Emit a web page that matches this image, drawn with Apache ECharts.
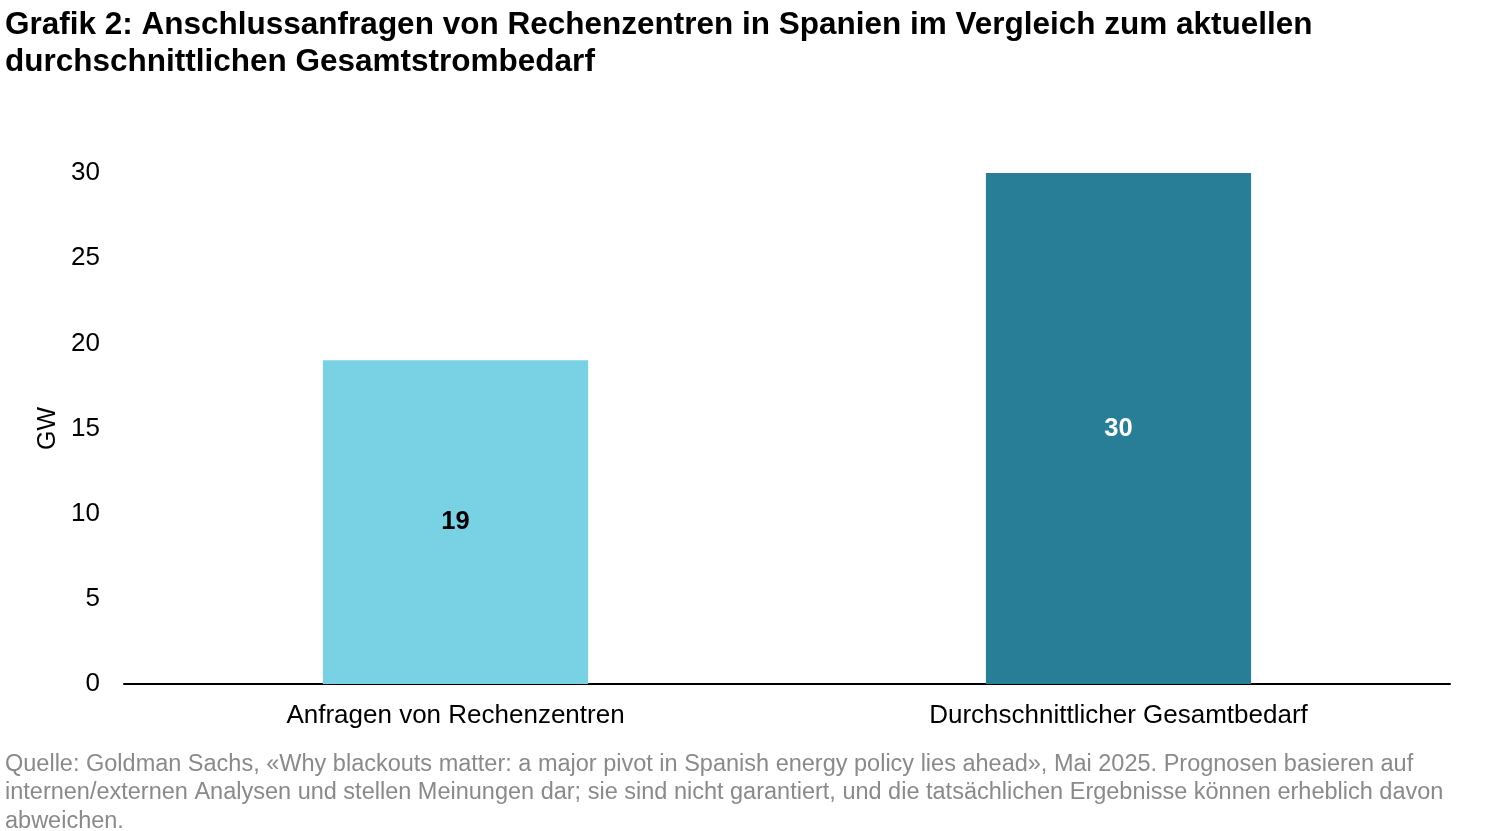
<!DOCTYPE html>
<html><head><meta charset="utf-8">
<script src="https://cdn.jsdelivr.net/npm/echarts@6/dist/echarts.min.js"></script>
<style>html,body{margin:0;padding:0;background:#fff;}#c{width:1500px;height:831px;}</style>
</head><body><div id="c"></div>
<script>
const titleText = "Grafik 2: Anschlussanfragen von Rechenzentren in Spanien im Vergleich zum aktuellen\ndurchschnittlichen Gesamtstrombedarf";
const categories = ["Anfragen von Rechenzentren", "Durchschnittlicher Gesamtbedarf"];
const values = [19, 30];
const barColors = ["#78D2E4", "#277E96"];
const labelColors = ["#000000", "#ffffff"];
const sourceText = "Quelle: Goldman Sachs, «Why blackouts matter: a major pivot in Spanish energy policy lies ahead», Mai 2025. Prognosen basieren auf\ninternen/externen Analysen und stellen Meinungen dar; sie sind nicht garantiert, und die tatsächlichen Ergebnisse können erheblich davon\nabweichen.";
const chart = echarts.init(document.getElementById('c'));
const F = 'Liberation Sans, Arial, sans-serif';
chart.setOption({
  animation: false,
  title: [
    {text: titleText, left: 0, top: 2, textStyle: {fontFamily: F, fontSize: 31.5, fontWeight: 'bold', color: '#000', lineHeight: 37}},
    {text: sourceText, left: 0, top: 745, textStyle: {fontFamily: F, fontSize: 23.5, fontWeight: 'normal', color: '#8a8a8a', lineHeight: 28.5}}
  ],
  grid: {left: 124, right: 50, top: 173, bottom: 147},
  xAxis: {type: 'category', data: categories,
    axisLine: {lineStyle: {color: '#000', width: 2}}, axisTick: {show: false},
    axisLabel: {fontFamily: F, fontSize: 26, color: '#000', margin: 19}},
  yAxis: {type: 'value', min: 0, max: 30, interval: 5, name: 'GW', nameLocation: 'middle', nameGap: 62,
    nameTextStyle: {fontFamily: F, fontSize: 25, color: '#000'},
    splitLine: {show: false}, axisLine: {show: false}, axisTick: {show: false},
    axisLabel: {fontFamily: F, fontSize: 26, color: '#000', margin: 24}},
  series: [{type: 'bar', barWidth: '40%',
    data: values.map((v, i) => ({value: v, itemStyle: {color: barColors[i]},
      label: {show: true, position: 'inside', color: labelColors[i], fontFamily: F, fontSize: 25.5, fontWeight: 'bold'}}))}]
});
</script></body></html>
